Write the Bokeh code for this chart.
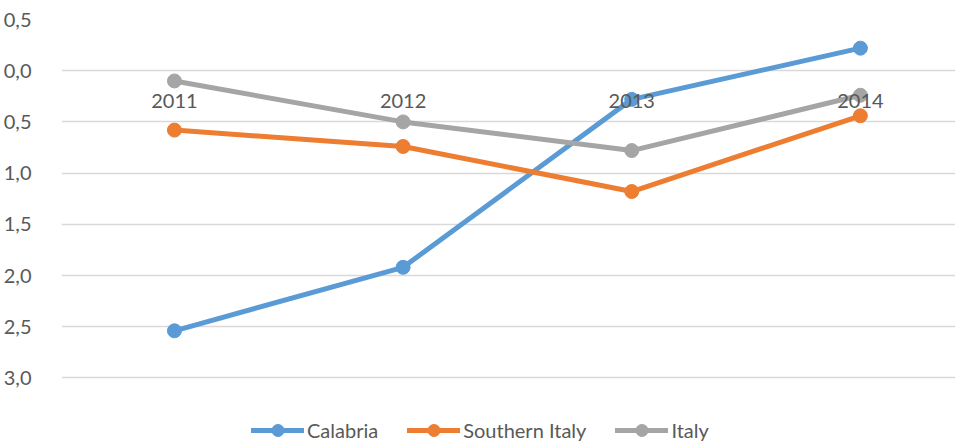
from bokeh.plotting import figure
from bokeh.models import ColumnDataSource, CustomJSTickFormatter, FixedTicker, Legend, LegendItem
from bokeh.core.properties import value
from bokeh.embed import file_html
from bokeh.resources import INLINE

years = [2011, 2012, 2013, 2014]
year_labels = ["2011", "2012", "2013", "2014"]
calabria = [-2.54, -1.92, -0.28, 0.22]
southern_italy = [-0.58, -0.74, -1.18, -0.44]
italy = [-0.10, -0.50, -0.78, -0.24]
y_ticks = [0.5, 0.0, -0.5, -1.0, -1.5, -2.0, -2.5, -3.0]

FONT = "Lato"
TXT = "#595959"

p = figure(width=955, height=445, output_backend="svg", toolbar_location=None,
           x_range=(2010.506, 2014.416), y_range=(-3.660, 0.5),
           min_border_left=52, min_border_right=0, min_border_top=19, min_border_bottom=0)
p.outline_line_color = None
p.xaxis.visible = False
p.xgrid.grid_line_color = None
p.ygrid.grid_line_color = "#d9d9d9"
p.ygrid.grid_line_width = 1.5
p.yaxis.ticker = FixedTicker(ticks=y_ticks)
p.yaxis.formatter = CustomJSTickFormatter(code="return Math.abs(tick).toFixed(1).replace('.', ',');")
p.yaxis.axis_line_color = None
p.yaxis.major_tick_line_color = None
p.yaxis.minor_tick_line_color = None
p.yaxis.major_label_standoff = 24
p.yaxis.major_label_text_font = FONT
p.yaxis.major_label_text_font_size = "20px"
p.yaxis.major_label_text_color = TXT

src = ColumnDataSource(dict(x=years, cal=calabria, sud=southern_italy, ita=italy, lab=year_labels,
                            zero=[0.0] * len(years)))

series = [("cal", "#5B9BD5", "Calabria"), ("sud", "#ED7D31", "Southern Italy"), ("ita", "#A5A5A5", "Italy")]
items = []
for col, color, name in series:
    l = p.line("x", col, source=src, line_color=color, line_width=5, line_cap="round")
    c = p.scatter("x", col, source=src, marker="circle", size=14, fill_color=color, line_color=color)
    items.append(LegendItem(label=name, renderers=[l, c]))

p.text("x", "zero", text="lab", source=src, text_font=value(FONT), text_font_size="20px",
       text_color=TXT, text_align="center", text_baseline="middle", y_offset=30)

legend = Legend(items=items, orientation="horizontal", location=(190, 0),
                glyph_width=53, glyph_height=30, label_standoff=3, spacing=29,
                padding=0, margin=0, border_line_color=None, background_fill_alpha=0,
                label_text_font=FONT, label_text_font_size="20px", label_text_color=TXT)
p.add_layout(legend)

open("out.html", "w").write(file_html(p, INLINE))
